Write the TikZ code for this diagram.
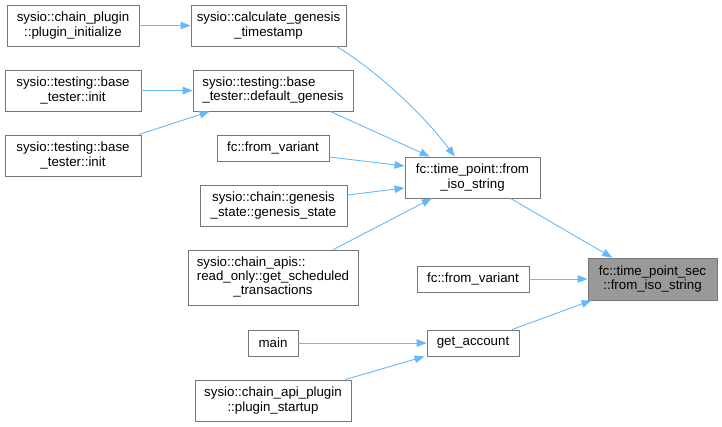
\documentclass[tikz,border=0pt]{standalone}
\usepackage{fontspec}
\setmainfont{Liberation Sans}
\usetikzlibrary{arrows.meta,calc}
\definecolor{edgeblue}{HTML}{63B8FF}
\definecolor{boxline}{HTML}{777777}
\definecolor{hlfill}{HTML}{999999}
\tikzset{
  fn/.style={draw=boxline, line width=0.9pt, fill=white, inner sep=0pt, align=center,
    font=\fontsize{13.3}{14.3}\selectfont, text=black},
  hl/.style={fn, fill=hlfill},
  call/.style={draw=edgeblue, line width=0.9pt, -{Triangle[length=10pt,width=7.5pt]}}
}
\begin{document}
\begin{tikzpicture}[x=1pt,y=-1pt]
\useasboundingbox (0,0) rectangle (722,426);
\node[fn, minimum width=132pt, minimum height=41pt] (pi) at (73,25.5) {sysio::chain\_plugin\\::plugin\_initialize};
\node[fn, minimum width=155pt, minimum height=41pt] (cgt) at (268.5,25.5) {sysio::calculate\_genesis\\\_timestamp};
\node[fn, minimum width=136pt, minimum height=41pt] (ia) at (73,90.5) {sysio::testing::base\\\_tester::init};
\node[fn, minimum width=160pt, minimum height=41pt] (dg) at (273,90.5) {\begin{tabular}{@{}l@{}}sysio::testing::base\\\_tester::default\_genesis\end{tabular}};
\node[fn, minimum width=136pt, minimum height=41pt] (ib) at (73,155.5) {sysio::testing::base\\\_tester::init};
\node[fn, minimum width=112pt, minimum height=26pt] (fva) at (273,148) {fc::from\_variant};
\node[fn, minimum width=147pt, minimum height=41pt] (gs) at (273.5,205.5) {sysio::chain::genesis\\\_state::genesis\_state};
\node[fn, minimum width=170pt, minimum height=55pt] (gst) at (273,277.5) {\begin{tabular}{@{}l@{}}sysio::chain\_apis::\\read\_only::get\_scheduled\\\multicolumn{1}{@{}c@{}}{\_transactions}\end{tabular}};
\node[fn, minimum width=50pt, minimum height=26pt] (mn) at (273,343) {main};
\node[fn, minimum width=156pt, minimum height=41pt] (ps) at (273,400.5) {sysio::chain\_api\_plugin\\::plugin\_startup};
\node[fn, minimum width=135pt, minimum height=41pt] (tpi) at (472.5,177.5) {fc::time\_point::from\\\_iso\_string};
\node[fn, minimum width=112pt, minimum height=26pt] (fvb) at (473,279) {fc::from\_variant};
\node[fn, minimum width=92pt, minimum height=26pt] (ga) at (473,343) {get\_account};
\node[hl, minimum width=129pt, minimum height=42pt] (tps) at (652.5,279) {fc::time\_point\_sec\\::from\_iso\_string};

\draw[call] (pi.east) -- (cgt.west);
\draw[call] ($(cgt.south west)!0.935!(cgt.south east)$) .. controls (370,66) and (420,110) .. ($(tpi.north west)!0.37!(tpi.north east)$);
\draw[call] (ia.east) -- (dg.west);
\draw[call] ($(ib.north west)!0.98!(ib.north east)$) -- ($(dg.south west)!0.106!(dg.south east)$);
\draw[call] ($(dg.south west)!0.856!(dg.south east)$) -- ($(tpi.north west)!0.185!(tpi.north east)$);
\draw[call] ($(fva.east)+(0,9)$) -- ($(tpi.west)+(0,-11.5)$);
\draw[call] ($(gs.east)+(0,-10.5)$) -- ($(tpi.west)+(0,10.5)$);
\draw[call] ($(gst.north west)!0.853!(gst.north east)$) -- ($(tpi.south west)!0.2!(tpi.south east)$);
\draw[call] ($(tpi.south west)!0.78!(tpi.south east)$) -- ($(tps.north west)!0.19!(tps.north east)$);
\draw[call] (fvb.east) -- (tps.west);
\draw[call] ($(ga.north west)!0.92!(ga.north east)$) -- ($(tps.south west)!0.03!(tps.south east)$);
\draw[call] (mn.east) -- (ga.west);
\draw[call] ($(ps.north west)!0.96!(ps.north east)$) -- ($(ga.south west)+(-2,0)$);
\end{tikzpicture}
\end{document}
